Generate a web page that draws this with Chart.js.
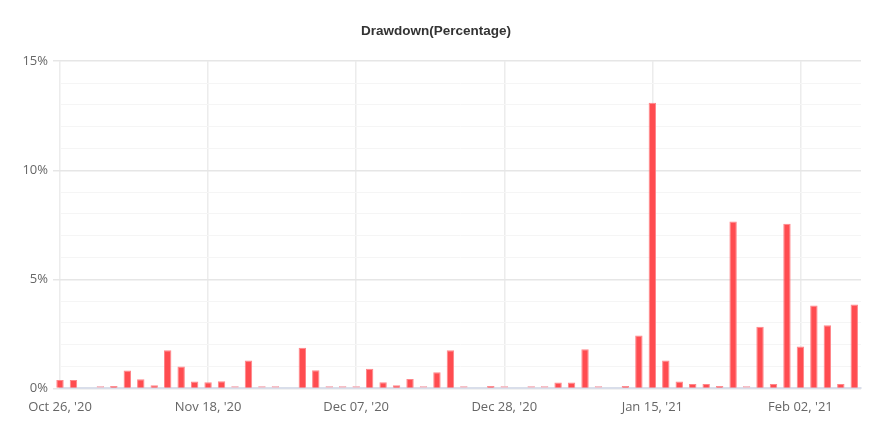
<!DOCTYPE html>
<html>
<head>
<meta charset="utf-8">
<script src="https://cdn.jsdelivr.net/npm/chart.js@4.4.1/dist/chart.umd.min.js"></script>
<style>
  html, body { margin: 0; padding: 0; background: #ffffff; }
  #wrap { width: 872px; height: 444px; position: relative; }
</style>
</head>
<body>
<div id="wrap"><canvas id="c"></canvas></div>
<script>
// ---- data ----
const categories = [
  "Oct 26, '20", "Oct 28, '20", "Oct 30, '20", "Nov 01, '20", "Nov 03, '20", "Nov 05, '20",
  "Nov 07, '20", "Nov 10, '20", "Nov 12, '20", "Nov 14, '20", "Nov 16, '20", "Nov 18, '20",
  "Nov 20, '20", "Nov 22, '20", "Nov 24, '20", "Nov 25, '20", "Nov 27, '20", "Nov 29, '20",
  "Dec 01, '20", "Dec 02, '20", "Dec 03, '20", "Dec 05, '20", "Dec 07, '20",
  "Dec 09, '20", "Dec 11, '20", "Dec 13, '20", "Dec 15, '20", "Dec 17, '20", "Dec 19, '20",
  "Dec 21, '20", "Dec 22, '20", "Dec 24, '20", "Dec 26, '20", "Dec 28, '20",
  "Dec 30, '20", "Jan 01, '21", "Jan 03, '21", "Jan 05, '21", "Jan 06, '21", "Jan 08, '21",
  "Jan 09, '21", "Jan 10, '21", "Jan 12, '21", "Jan 13, '21", "Jan 15, '21",
  "Jan 17, '21", "Jan 19, '21", "Jan 20, '21", "Jan 22, '21", "Jan 24, '21", "Jan 25, '21",
  "Jan 27, '21", "Jan 28, '21", "Jan 29, '21", "Jan 31, '21", "Feb 02, '21",
  "Feb 04, '21", "Feb 05, '21", "Feb 07, '21", "Feb 09, '21"
];
// drawdown in percent (null = no bar)
const drawdown = [
  0.38, 0.38, null, 0, 0.10, 0.82,
  0.42, 0.15, 1.75, 1.00, 0.32, 0.28,
  0.33, 0, 1.28, 0, 0, null,
  1.86, 0.83, 0, 0, 0,
  0.90, 0.28, 0.15, 0.43, 0, 0.74,
  1.75, 0, null, 0.10, 0,
  null, 0, 0, 0.27, 0.27, 1.80,
  0, null, 0.10, 2.42, 13.10,
  1.28, 0.32, 0.20, 0.20, 0.10, 7.65,
  0, 2.83, 0.20, 7.55, 1.92,
  3.80, 2.90, 0.20, 3.85
];
const xTickIndices = [0, 11, 22, 33, 44, 55];
const yTickValues = [0, 5, 10, 15];
const titleText = "Drawdown(Percentage)";

// ---- chart ----
const points = drawdown.map((v, i) => ({ x: i, y: v }));
const barRed = 'rgb(255, 76, 80)';
const zeroPink = 'rgb(246, 178, 186)';

new Chart(document.getElementById('c'), {
  type: 'bar',
  data: {
    datasets: [{
      label: 'Drawdown',
      data: points,
      clip: false,
      backgroundColor: (ctx) => (ctx.raw && ctx.raw.y === 0) ? zeroPink : barRed,
      borderColor: (ctx) => (ctx.raw && ctx.raw.y === 0) ? zeroPink : 'rgba(255, 120, 124, 0.9)',
      borderWidth: 1,
      borderSkipped: 'bottom',
      minBarLength: 2.5,
      barPercentage: 0.55,
      categoryPercentage: 1.0
    }]
  },
  options: {
    responsive: true,
    maintainAspectRatio: false,
    animation: false,
    layout: { padding: { left: 0, right: 0, top: 0, bottom: 18 } },
    plugins: {
      legend: { display: false },
      tooltip: { enabled: false },
      title: {
        display: true,
        text: titleText,
        color: '#333333',
        font: { family: 'Liberation Sans, Arial, sans-serif', size: 13.5, weight: 'bold' },
        padding: { top: 23, bottom: 22 }
      }
    },
    scales: {
      x: {
        type: 'linear',
        min: 0,
        max: 59.5,
        offset: false,
        afterBuildTicks: (scale) => { scale.ticks = xTickIndices.map(v => ({ value: v })); },
        grid: {
          display: true,
          offset: false,
          color: '#ececec',
          lineWidth: 1.5,
          drawTicks: false
        },
        border: { display: true, color: '#d9deea', width: 2 },
        ticks: {
          autoSkip: false,
          maxRotation: 0,
          padding: 11,
          color: '#666666',
          font: { family: 'Open Sans, sans-serif', size: 13 },
          callback: (v) => categories[v]
        }
      },
      y: {
        min: 0,
        max: 15,
        afterFit: (scale) => { scale.width = 60; },
        grid: {
          color: (ctx) => (yTickValues.includes(ctx.tick.value) ? '#e6e6e6' : '#f5f5f5'),
          lineWidth: (ctx) => (yTickValues.includes(ctx.tick.value) ? 1.5 : 1),
          tickColor: (ctx) => (yTickValues.includes(ctx.tick.value) ? '#e6e6e6' : 'rgba(0,0,0,0)'),
          tickLength: 7,
          drawTicks: true
        },
        border: { display: false },
        ticks: {
          stepSize: 1,
          autoSkip: false,
          padding: 5,
          color: '#666666',
          font: { family: 'Open Sans, sans-serif', size: 13 },
          callback: (v) => (yTickValues.includes(v) ? v + '%' : '')
        }
      },
      yRight: {
        position: 'right',
        display: true,
        afterFit: (scale) => { scale.width = 11; },
        grid: { display: false, drawTicks: false },
        border: { display: false },
        ticks: { display: false }
      }
    }
  }
});
</script>
</body>
</html>
